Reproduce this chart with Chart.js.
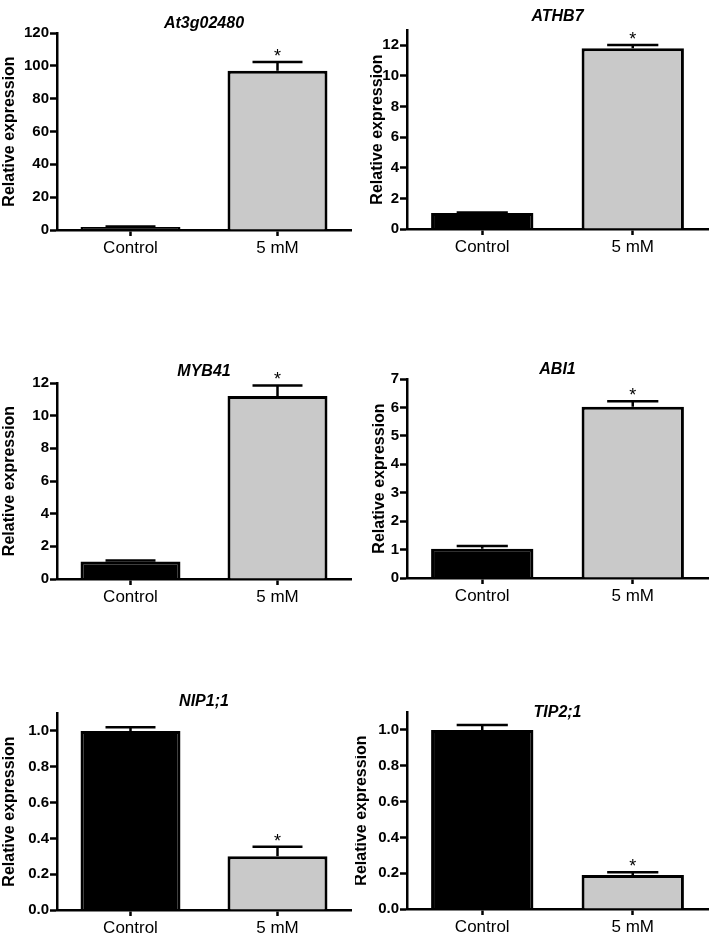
<!DOCTYPE html>
<html>
<head>
<meta charset="utf-8">
<script src="https://cdn.jsdelivr.net/npm/chart.js@4.4.0/dist/chart.umd.min.js"></script>
<style>
  body { margin: 0; background: #fff; }
  #page { position: relative; width: 713px; height: 950px; overflow: hidden; }
  #page canvas { position: absolute; }
</style>
</head>
<body>
<div id="page"></div>
<script>
// data
const categories = ["Control", "5 mM"];
const genes = ["At3g02480", "ATHB7", "MYB41", "ABI1", "NIP1;1", "TIP2;1"];
const controlMeans = [1.8, 1.05, 1.07, 1.03, 1.0, 1.0];
const controlErrors = [0.3, 0.03, 0.06, 0.1, 0.02, 0.027];
const treatedMeans = [97, 11.8, 11.2, 6.02, 0.30, 0.19];
const treatedErrors = [5.3, 0.22, 0.65, 0.2, 0.053, 0.015];
const significant = [true, true, true, true, true, true];
const axisMax = [120, 13, 12, 7, 1.1, 1.1];
const axisStep = [20, 2, 2, 1, 0.2, 0.2];
const tickDecimals = [0, 0, 0, 0, 1, 1];

const FONT = "'Liberation Sans', Arial, Helvetica, sans-serif";

// where each panel sits on the page (page pixels)
const panels = [
  { left: 0,   top: 0,   width: 355, height: 275, plotTop: 33,  plotBottom: 230, titleY: 24,  yTitlePad: 0 },
  { left: 355, top: 0,   width: 358, height: 275, plotTop: 30,  plotBottom: 229, titleY: 17,  yTitlePad: 13 },
  { left: 0,   top: 330, width: 355, height: 300, plotTop: 383, plotBottom: 579, titleY: 372, yTitlePad: 0 },
  { left: 355, top: 330, width: 358, height: 300, plotTop: 379, plotBottom: 578, titleY: 370, yTitlePad: 15 },
  { left: 0,   top: 650, width: 355, height: 300, plotTop: 713, plotBottom: 910, titleY: 702, yTitlePad: 0 },
  { left: 355, top: 650, width: 358, height: 300, plotTop: 712, plotBottom: 909, titleY: 713, yTitlePad: -3 }
];

// gene name above the plot
const panelTitle = {
  id: "panelTitle",
  afterDraw(chart, args, opts) {
    const ctx = chart.ctx;
    const a = chart.chartArea;
    ctx.save();
    ctx.font = "italic bold 16px " + FONT;
    ctx.fillStyle = "#000";
    ctx.textAlign = "center";
    ctx.textBaseline = "middle";
    ctx.fillText(opts.text, (a.left + a.right) / 2, opts.y);
    ctx.restore();
  }
};

// SD bars (upper half only) and the significance star
const errorBars = {
  id: "errorBars",
  afterDatasetsDraw(chart, args, opts) {
    const ctx = chart.ctx;
    const yScale = chart.scales.y;
    const values = chart.data.datasets[0].data;
    const meta = chart.getDatasetMeta(0);
    ctx.save();
    ctx.strokeStyle = "#000";
    ctx.fillStyle = "#000";
    ctx.lineWidth = 2.5;
    ctx.font = "18px " + FONT;
    ctx.textAlign = "center";
    ctx.textBaseline = "alphabetic";
    meta.data.forEach((bar, j) => {
      const top = yScale.getPixelForValue(values[j] + opts.errors[j]);
      const half = bar.width / 4;
      ctx.beginPath();
      ctx.moveTo(bar.x, bar.y);
      ctx.lineTo(bar.x, top);
      ctx.moveTo(bar.x - half, top);
      ctx.lineTo(bar.x + half, top);
      ctx.stroke();
      if (opts.stars[j]) {
        ctx.fillText("*", bar.x, top);
      }
    });
    ctx.restore();
  }
};

const page = document.getElementById("page");

panels.forEach((p, i) => {
  const canvas = document.createElement("canvas");
  canvas.width = p.width;
  canvas.height = p.height;
  canvas.style.left = p.left + "px";
  canvas.style.top = p.top + "px";
  page.appendChild(canvas);

  const leftCol = p.left === 0;
  const axisWidth = leftCol ? 57 : 52;
  const xAxisHeight = 40;

  new Chart(canvas.getContext("2d"), {
    type: "bar",
    data: {
      labels: categories,
      datasets: [{
        data: [controlMeans[i], treatedMeans[i]],
        backgroundColor: ["#000000", "#c9c9c9"],
        borderColor: "#000000",
        borderWidth: 3,
        barPercentage: 0.68,
        categoryPercentage: 1
      }]
    },
    plugins: [panelTitle, errorBars],
    options: {
      responsive: false,
      animation: false,
      devicePixelRatio: 1,
      layout: {
        padding: {
          left: 0,
          right: leftCol ? 4 : 5,
          top: p.plotTop - p.top,
          bottom: p.top + p.height - p.plotBottom - xAxisHeight
        }
      },
      plugins: {
        legend: { display: false },
        tooltip: { enabled: false },
        panelTitle: { text: genes[i], y: p.titleY - p.top },
        errorBars: { errors: [controlErrors[i], treatedErrors[i]], stars: [false, significant[i]] }
      },
      scales: {
        x: {
          grid: { offset: false, drawOnChartArea: false, tickLength: 6, tickWidth: 2.5, tickColor: "#000" },
          border: { color: "#000", width: 2.5 },
          ticks: { color: "#000", font: { family: FONT, size: 17 }, padding: 2 },
          afterFit: s => { s.height = xAxisHeight; }
        },
        y: {
          min: 0,
          max: axisMax[i],
          grid: { drawOnChartArea: false, tickLength: 7, tickWidth: 2.5, tickColor: "#000" },
          border: { color: "#000", width: 2.5 },
          ticks: {
            stepSize: axisStep[i],
            includeBounds: false,
            color: "#000",
            padding: 1,
            font: { family: FONT, size: 15, weight: "bold" },
            callback: v => Number(v).toFixed(tickDecimals[i])
          },
          title: {
            display: true,
            text: "Relative expression",
            color: "#000",
            font: { family: FONT, size: 16, weight: "bold" },
            padding: { top: p.yTitlePad, bottom: 0 }
          },
          afterFit: s => { s.width = axisWidth; }
        }
      }
    }
  });
});
</script>
</body>
</html>
